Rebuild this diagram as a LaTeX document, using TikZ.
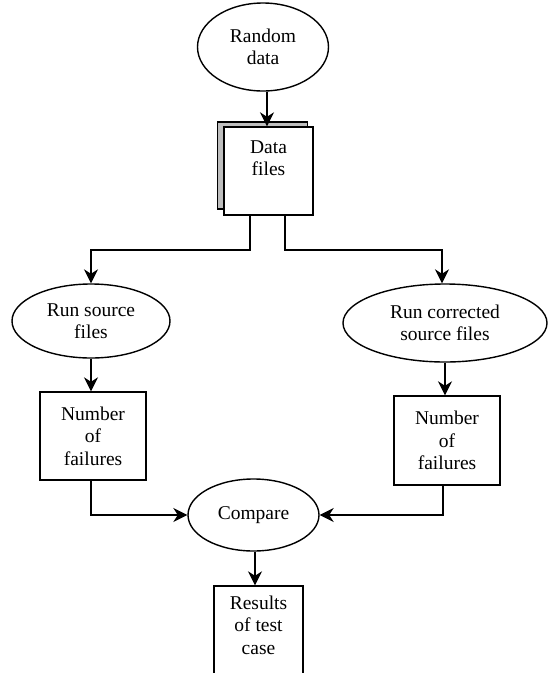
\documentclass[tikz,border=0pt]{standalone}
\usepackage{fontspec}
\setmainfont{Liberation Serif}
\usetikzlibrary{shapes.geometric,arrows.meta}
\begin{document}
\begin{tikzpicture}[x=1pt,y=-1pt,
  every node/.style={font=\fontsize{19.5}{22.5}\selectfont, align=center, inner sep=0pt},
  oval/.style={ellipse, draw, line width=1.4pt},
  box/.style={rectangle, draw, line width=1.4pt, fill=white},
  conn/.style={line width=1.4pt, -{Stealth[length=14pt,width=14pt,inset=4.5pt]}},
  plain/.style={line width=1.4pt}]
\useasboundingbox (0,0) rectangle (548,673);
\clip (0,0) rectangle (548,673);
% nodes
\node[oval, minimum width=131pt, minimum height=88pt] (rand) at (263,47) {Random\\data};
\node[box, fill={rgb,255:red,190;green,190;blue,190}, minimum width=90pt, minimum height=87pt] (shadow) at (262.5,165.5) {};
\node[box, minimum width=89pt, minimum height=88pt] (data) at (268.5,171) {};
\node (datalbl) at (268.5,158) {Data\\files};
\node[oval, minimum width=158pt, minimum height=74pt] (rsrc) at (91,321) {Run source\\files};
\node[oval, minimum width=204pt, minimum height=78pt] (rcor) at (445,323) {Run corrected\\source files};
\node[box, minimum width=106pt, minimum height=88pt] (nfl) at (93,436) {Number\\of\\failures};
\node[box, minimum width=106pt, minimum height=89pt] (nfr) at (447,440.5) {Number\\of\\failures};
\node[oval, minimum width=131pt, minimum height=72pt] (cmp) at (253.5,515) {Compare};
\node[box, minimum width=89pt, minimum height=130pt] (res) at (258.5,651) {};
\node (reslbl) at (258.5,625) {Results\\of test\\case};
% connectors
\draw[conn] (rand.south -| 267,0) -- (267,0 |- data.north);
\coordinate (dl) at (250,215);
\coordinate (dr) at (285,215);
\draw[conn] (dl) -- (250,250) -- (91,250) -- (rsrc.north);
\draw[conn] (dr) -- (285,250) -- (442,250) -- (442,0 |- rcor.north);
\draw[conn] (rsrc.south) -- (91,0 |- nfl.north);
\draw[conn] (445,0 |- rcor.south) -- (445,0 |- nfr.north);
\draw[conn] (91,0 |- nfl.south) -- (91,515) -- (cmp.west);
\draw[conn] (443,0 |- nfr.south) -- (443,515) -- (cmp.east);
\draw[conn] (255,0 |- cmp.south) -- (255,0 |- res.north);
\end{tikzpicture}
\end{document}
